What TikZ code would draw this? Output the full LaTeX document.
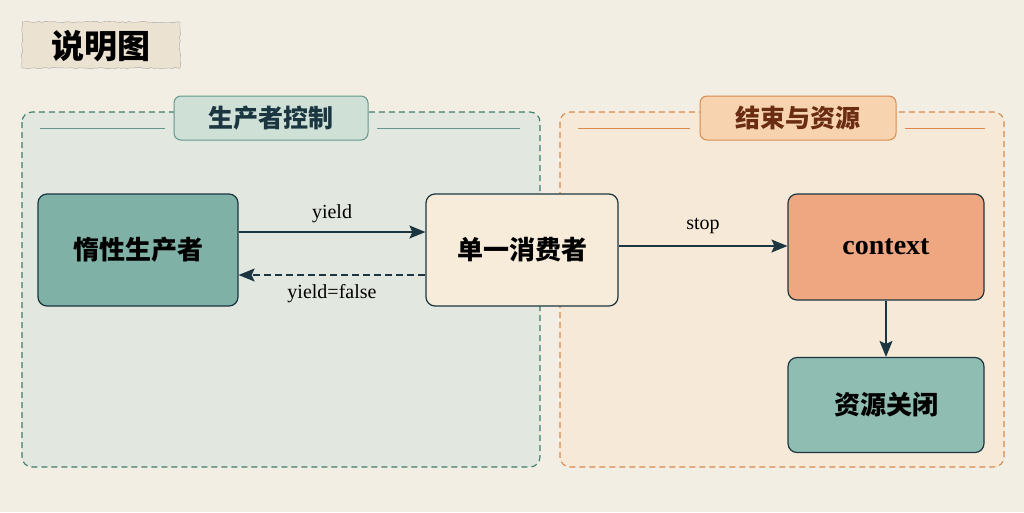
\documentclass[tikz,border=0pt]{standalone}
\usepackage{fontspec}
\setmainfont{Liberation Serif}
\newfontfamily\cjk{Noto Sans CJK SC}
\usepackage{xcolor}
\usepackage{tikz}
\usetikzlibrary{arrows.meta,decorations.pathmorphing}

\definecolor{paper}{HTML}{F3EEE4}
\definecolor{tagfill}{HTML}{ECE2D2}
\definecolor{tealline}{HTML}{3F7D6F}
\definecolor{tealbg}{HTML}{E2E7DF}
\definecolor{tealtab}{HTML}{CFE1D7}
\definecolor{tealnode}{HTML}{80B1A6}
\definecolor{tealnodeb}{HTML}{90BDB2}
\definecolor{orgline}{HTML}{D98A4C}
\definecolor{orgbg}{HTML}{F6E9D8}
\definecolor{orgtab}{HTML}{F7D3AF}
\definecolor{orgnode}{HTML}{EFA781}
\definecolor{creamnode}{HTML}{F7EBDA}
\definecolor{inkdark}{HTML}{1B3640}
\definecolor{brownt}{HTML}{6A2C12}

\tikzset{
  boxnode/.style={draw=inkdark, line width=1.2pt, rounded corners=9pt, align=center},
  cjkbig/.style={font=\cjk\bfseries\fontsize{26}{28}\selectfont},
  flow/.style={draw=inkdark, line width=1.3pt, -{Stealth[length=16pt,width=13pt,inset=3pt]}},
  grpbox/.style={dash pattern=on 6pt off 4pt, line width=1.1pt, rounded corners=10pt},
  tabnode/.style={rounded corners=7pt, line width=1pt, minimum width=194pt, minimum height=44pt, font=\cjk\bfseries\fontsize{25}{27}\selectfont},
  lbl/.style={font=\fontsize{20}{22}\selectfont, text=black}
}

\begin{document}
\begin{tikzpicture}[x=1pt,y=-1pt]
        \useasboundingbox (0,0) rectangle (1024,512);
        \fill[paper] (0,0) rectangle (1024,512);
        % title tag
        \draw[draw=black!35, fill=tagfill, decorate, decoration={random steps, segment length=3pt, amplitude=0.7pt}] (22,22) rectangle (180,68);
        \node (title) at (101,46) {\cjk\bfseries\fontsize{33}{35}\selectfont 说明图};
        % groups
        \draw[grpbox, draw=tealline, fill=tealbg] (22,112) rectangle (540,467);
        \draw[grpbox, draw=orgline, fill=orgbg] (560,112) rectangle (1004,467);
        \draw[tealline!80, line width=1pt] (40,128) -- (165,128);
        \draw[tealline!80, line width=1pt] (377,128) -- (520,128);
        \draw[orgline, line width=1pt] (578,128) -- (690,128);
        \draw[orgline, line width=1pt] (905,128) -- (985,128);
        \node[tabnode, draw=tealline!80, fill=tealtab, text=inkdark] (ctl) at (271,118) {生产者控制};
        \node[tabnode, draw=orgline, fill=orgtab, text=brownt, minimum width=196pt] (res) at (798,118) {结束与资源};
        % nodes
        \node[boxnode, cjkbig, fill=tealnode, minimum width=200pt, minimum height=112pt] (lazy) at (138,250) {惰性生产者};
        \node[boxnode, cjkbig, fill=creamnode, minimum width=192pt, minimum height=112pt] (cons) at (522,250) {单一消费者};
        \node[boxnode, fill=orgnode, minimum width=196pt, minimum height=106pt, font=\bfseries\fontsize{28}{30}\selectfont] (ctx) at (886,247) {context};
        \node[boxnode, cjkbig, fill=tealnodeb, minimum width=196pt, minimum height=95pt] (close) at (886,405) {资源关闭};
        % connectors
        \draw[flow] (lazy.east |- 0,232) -- (cons.west |- 0,232) node[lbl, midway, above=5pt] {yield};
        \draw[flow, dash pattern=on 7pt off 4pt] (cons.west |- 0,275) -- (lazy.east |- 0,275) node[lbl, midway, below=5pt] {yield=false};
        \draw[flow] (cons.east |- 0,246) -- (ctx.west |- 0,246) node[lbl, midway, above=8pt] {stop};
        \draw[flow] (ctx) -- (close);
        \end{tikzpicture}
\end{document}
